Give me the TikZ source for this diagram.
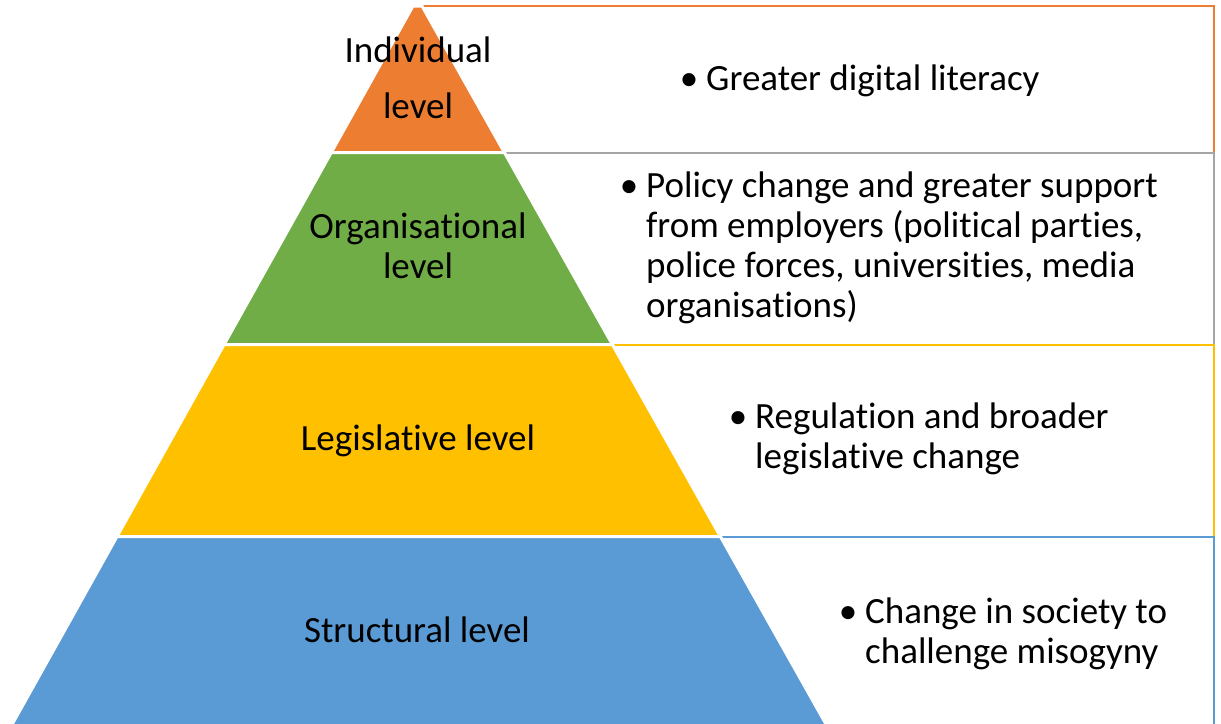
\documentclass[tikz,border=0pt]{standalone}
\usepackage{fontspec}
\setmainfont{Carlito}[Ligatures=NoCommon]
\definecolor{lvlorange}{HTML}{ED7D31}
\definecolor{lvlgreen}{HTML}{70AD47}
\definecolor{lvlyellow}{HTML}{FFC000}
\definecolor{lvlblue}{HTML}{5B9BD5}
\definecolor{lvlgray}{HTML}{A5A5A5}
\newcommand{\bul}{\llap{\textbullet\hspace{8pt}}}
\newcommand{\txtrows}[2]{\begin{tabular}[t]{@{}#1@{}}#2\end{tabular}}
\tikzset{
  slice/.style={draw=white,line width=3pt},
  panel/.style={line width=2pt,fill=white},
  lvltext/.style={anchor=base,inner sep=0,font=\fontsize{37}{40}\selectfont},
  pointtext/.style={anchor=base west,inner sep=0,font=\fontsize{37}{40}\selectfont},
 }

\begin{document}
\begin{tikzpicture}[x=1pt,y=-1pt]
        \useasboundingbox (0,0) rectangle (1221,723);
        % boxes behind the pyramid
        \draw[panel,draw=lvlorange] (420,6) rectangle (1214,152.5);
        \draw[panel,draw=lvlgray] (420,152.5) rectangle (1214,344.5);
        \draw[panel,draw=lvlyellow] (420,344.5) rectangle (1214,536.5);
        \draw[panel,draw=lvlblue] (420,536.5) rectangle (1214,740);
        % pyramid
        \filldraw[slice,fill=lvlorange] (413,6) -- (422,6) -- (504.4,152.5)
                -- (331.3,152.5) -- cycle;
        \filldraw[slice,fill=lvlgreen] (331.3,152.5) -- (504.4,152.5)
                -- (612.4,344.5) -- (224.1,344.5) -- cycle;
        \filldraw[slice,fill=lvlyellow] (224.1,344.5) -- (612.4,344.5)
                -- (720.4,536.5) -- (117.0,536.5) -- cycle;
        \filldraw[slice,fill=lvlblue] (117.0,536.5) -- (720.4,536.5)
                -- (834.9,740) -- (3.4,740) -- cycle;
        % levels
        \node[lvltext] (indiv) at (418,62) {\txtrows{c}{Individual\\[16pt]level}};
        \node[lvltext] (org) at (418,238) {\txtrows{c}{Organisational\\level}};
        \node[lvltext] (legis) at (418,450) {Legislative level};
        \node[lvltext] (struct) at (417,642) {Structural level};
        % measures
        \node[pointtext] (digital) at (706,90)
                {\txtrows{l}{\bul Greater digital literacy}};
        \node[pointtext] (policy) at (646,197)
                {\txtrows{l}{\bul Policy change and greater support\\
                from employers (political parties,\\
                police forces, universities, media\\
                organisations)}};
        \node[pointtext] (regul) at (755,428)
                {\txtrows{l}{\bul Regulation and broader\\legislative change}};
        \node[pointtext] (society) at (865,623)
                {\txtrows{l}{\bul Change in society to\\challenge misogyny}};
\end{tikzpicture}
\end{document}
